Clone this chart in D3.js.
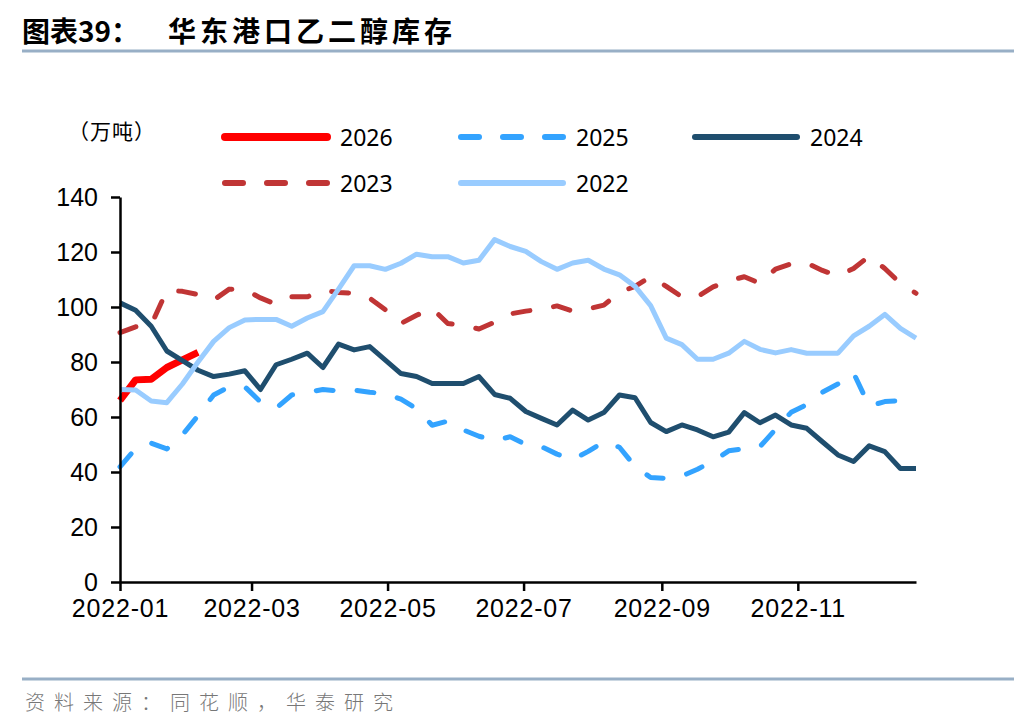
<!DOCTYPE html>
<html>
<head>
<meta charset="utf-8">
<script src="https://cdn.jsdelivr.net/npm/d3@7"></script>
<style>
  body { margin: 0; background: #fff; }
  svg { display: block; }
</style>
</head>
<body>
<svg></svg>
<script>
// weekly dates (all years plotted on the 2022 calendar)
const weeks = [
  "2022-01-01", "2022-01-08", "2022-01-15", "2022-01-22", "2022-01-29",
  "2022-02-05", "2022-02-12", "2022-02-19", "2022-02-26",
  "2022-03-05", "2022-03-12", "2022-03-19", "2022-03-26",
  "2022-04-02", "2022-04-09", "2022-04-16", "2022-04-23", "2022-04-30",
  "2022-05-07", "2022-05-14", "2022-05-21", "2022-05-28",
  "2022-06-04", "2022-06-11", "2022-06-18", "2022-06-25",
  "2022-07-02", "2022-07-09", "2022-07-16", "2022-07-23", "2022-07-30",
  "2022-08-06", "2022-08-13", "2022-08-20", "2022-08-27",
  "2022-09-03", "2022-09-10", "2022-09-17", "2022-09-24",
  "2022-10-01", "2022-10-08", "2022-10-15", "2022-10-22", "2022-10-29",
  "2022-11-05", "2022-11-12", "2022-11-19", "2022-11-26",
  "2022-12-03", "2022-12-10", "2022-12-17", "2022-12-24"
];

const s2026 = [66, 73.5, 73.7, 78, 80.8, 83.5];

const s2025 = [41.9, 48.5, 50.5, 48.4, 53.5, 60.5, 68, 71, 71, 65.5,
  63.2, 68, 69, 70, 69.5, 69.8, 69, 68.5, 66.5, 63,
  57, 58.5, 55.3, 53, 51.5, 52.8, 50, 49.2, 46.5, 44.5,
  47.5, 51, 49, 42, 38, 37.7, 38.5, 41, 44, 47.7,
  48.5, 49.2, 55.5, 61.7, 64.5, 69, 72, 76, 64, 65.6,
  66, 67];

const s2024 = [101.5, 98.8, 93, 84, 80.5, 77, 74.7, 75.6, 76.8, 70,
  79, 81, 83.2, 78, 86.5, 84.4, 85.6, 80.7, 75.8, 74.7,
  72.2, 72.2, 72.2, 74.7, 68.2, 66.8, 62, 59.5, 57.1, 62.5,
  58.9, 61.6, 68, 67, 58, 54.7, 57.1, 55.3, 52.8, 54.5,
  61.6, 57.9, 60.7, 57.1, 55.9, 51, 46.2, 43.8, 49.5, 47.4,
  41.3, 41.3];

const s2023 = [90.7, 92.8, 93.5, 106, 105.7, 104.5, 102.5, 106.5, 106.3, 103.3,
  101, 103.7, 103.7, 106, 105.3, 105, 103.2, 99, 94, 97,
  99.5, 94, 93.3, 92, 94.5, 97.5, 98.5, 99.2, 100.4, 98.5,
  99.3, 100.7, 105.3, 107.5, 111, 107.5, 103.7, 103.8, 107.3, 109.5,
  111, 108.6, 113.8, 115.7, 116, 113.3, 111.3, 114, 118.5, 114,
  108.6, 105];

const s2022 = [70, 69.8, 65.8, 65.2, 72, 80, 87.5, 92.5, 95.3, 95.5,
  95.5, 93, 96, 98.3, 106.5, 115, 115, 113.7, 115.9, 119.2,
  118.3, 118.3, 116, 117, 124.5, 122, 120.2, 116.5, 113.7, 116,
  117, 113.8, 111.7, 107.5, 100.5, 88.7, 86.3, 81, 81, 83.2,
  87.5, 84.6, 83.3, 84.5, 83.2, 83.2, 83.2, 89.5, 93, 97.3,
  92.2, 88.7];

const xTicks = ["2022-01", "2022-03", "2022-05", "2022-07", "2022-09", "2022-11"];
const yTicks = [0, 20, 40, 60, 80, 100, 120, 140];

const width = 1036;
const height = 728;

const series = [
  { name: "2026", values: s2026, color: "#ff0000", w: 7, dash: null },
  { name: "2025", values: s2025, color: "#33a3ff", w: 5, dash: "17,24" },
  { name: "2024", values: s2024, color: "#1f4e6e", w: 5, dash: null },
  { name: "2023", values: s2023, color: "#c03535", w: 5, dash: "17,24" },
  { name: "2022", values: s2022, color: "#99ccff", w: 5, dash: null }
];

const parse = d3.timeParse("%Y-%m-%d");
const parseMonth = d3.timeParse("%Y-%m");
const dates = weeks.map(parse);

const svg = d3.select("svg").attr("width", width).attr("height", height);

// title
svg.append("text")
  .attr("x", 22)
  .attr("y", 42)
  .attr("font-family", "Noto Sans CJK SC")
  .attr("font-weight", "bold")
  .attr("font-size", 28)
  .attr("fill", "#000")
  .text("图表39：");
svg.append("text")
  .attr("x", 168)
  .attr("y", 42)
  .attr("font-family", "Noto Sans CJK SC")
  .attr("font-weight", "bold")
  .attr("font-size", 28)
  .attr("letter-spacing", 4)
  .attr("fill", "#000")
  .text("华东港口乙二醇库存");

svg.append("line")
  .attr("x1", 22).attr("x2", 1014)
  .attr("y1", 51).attr("y2", 51)
  .attr("stroke", "#98afc6")
  .attr("stroke-width", 3);

// footer
svg.append("line")
  .attr("x1", 22).attr("x2", 1014)
  .attr("y1", 679).attr("y2", 679)
  .attr("stroke", "#98afc6")
  .attr("stroke-width", 3);
svg.append("text")
  .attr("x", 25)
  .attr("y", 710)
  .attr("font-family", "Noto Sans CJK SC")
  .attr("font-weight", 300)
  .attr("font-size", 20)
  .attr("letter-spacing", 9)
  .attr("fill", "#777")
  .text("资料来源：同花顺，华泰研究");

// scales
const x = d3.scaleTime()
  .domain([dates[0], dates[dates.length - 1]])
  .range([120, 916]);

const y = d3.scaleLinear()
  .domain([0, 140])
  .range([582, 197]);

// unit label
svg.append("text")
  .attr("x", 68)
  .attr("y", 139)
  .attr("font-family", "Noto Sans CJK SC")
  .attr("font-size", 21)
  .attr("letter-spacing", 1)
  .attr("fill", "#000")
  .text("（万吨）");

// lines
const line = d3.line()
  .x((d, i) => x(dates[i]))
  .y((d) => y(d));

series.forEach((s) => {
  svg.append("path")
    .datum(s.values)
    .attr("fill", "none")
    .attr("stroke", s.color)
    .attr("stroke-width", s.w)
    .attr("stroke-linejoin", "round")
    .attr("stroke-linecap", s.dash ? "round" : "butt")
    .attr("stroke-dasharray", s.dash)
    .attr("d", line);
});

// axes
const xAxis = d3.axisBottom(x)
  .tickValues(xTicks.map(parseMonth))
  .tickFormat(d3.timeFormat("%Y-%m"))
  .tickSize(9)
  .tickSizeOuter(0)
  .tickPadding(8);

const yAxis = d3.axisLeft(y)
  .tickValues(yTicks)
  .tickSize(9)
  .tickSizeOuter(0)
  .tickPadding(13);

const gx = svg.append("g")
  .attr("transform", "translate(0, 582)")
  .call(xAxis);

const gy = svg.append("g")
  .attr("transform", "translate(120, 0)")
  .call(yAxis);

[gx, gy].forEach((g) => {
  g.selectAll("path, line").attr("stroke", "#000").attr("stroke-width", 2.5);
  g.selectAll("text")
    .attr("font-family", "Liberation Sans")
    .attr("font-size", 25)
    .attr("fill", "#000");
});
gx.selectAll("text").attr("letter-spacing", 0.8);

// legend
const legendPos = [
  { x: 222, y: 137 }, { x: 458, y: 137 }, { x: 692, y: 137 },
  { x: 222, y: 183 }, { x: 458, y: 183 }
];

series.forEach((s, i) => {
  const p = legendPos[i];
  svg.append("line")
    .attr("x1", p.x + 3).attr("x2", p.x + 105)
    .attr("y1", p.y).attr("y2", p.y)
    .attr("stroke", s.color)
    .attr("stroke-width", s.name === "2026" ? 8 : 6)
    .attr("stroke-linecap", "round")
    .attr("stroke-dasharray", s.dash ? "18,24" : null);
  svg.append("text")
    .attr("x", p.x + 118)
    .attr("y", p.y + 9)
    .attr("font-family", "Noto Sans")
    .attr("font-size", 23)
    .attr("fill", "#000")
    .text(s.name);
});
</script>
</body>
</html>
